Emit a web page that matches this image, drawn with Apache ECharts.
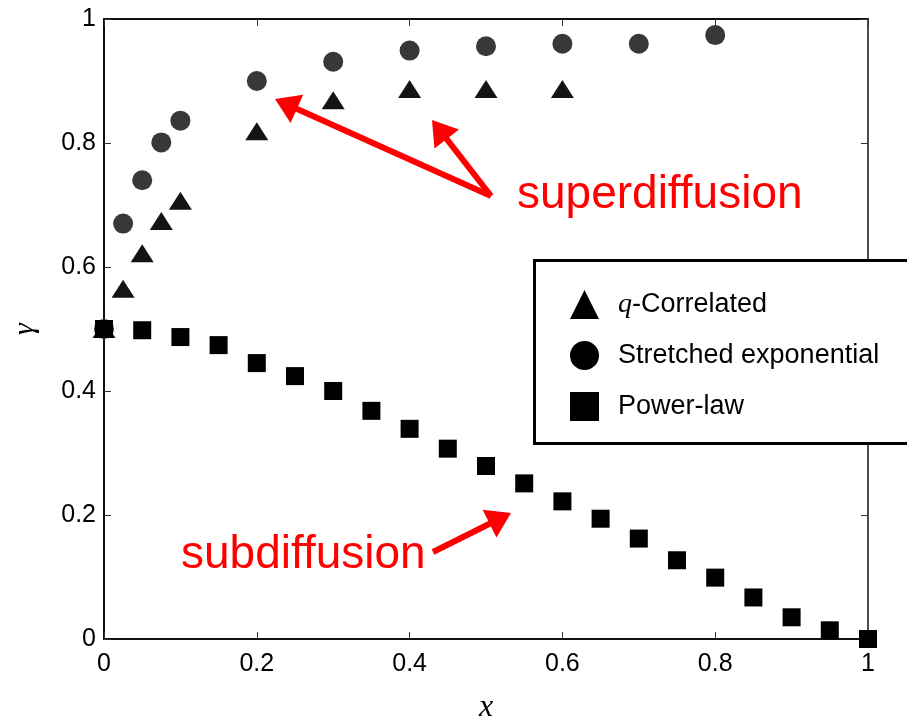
<!DOCTYPE html>
<html>
<head>
<meta charset="utf-8">
<script src="https://cdn.jsdelivr.net/npm/echarts@6/dist/echarts.min.js"></script>
<style>
  html, body { margin: 0; padding: 0; background: #fff; }
  #chart { width: 907px; height: 717px; }
</style>
</head>
<body>
<div id="chart"></div>
<script>
// gamma(x) for the three memory-kernel models
const xCorrelated = [0, 0.025, 0.05, 0.075, 0.1, 0.2, 0.3, 0.4, 0.5, 0.6];
const gammaCorrelated = [0.5, 0.565, 0.622, 0.674, 0.707, 0.819, 0.869, 0.887, 0.887, 0.887];

const xStretched = [0, 0.025, 0.05, 0.075, 0.1, 0.2, 0.3, 0.4, 0.5, 0.6, 0.7, 0.8];
const gammaStretched = [0.5, 0.67, 0.74, 0.801, 0.836, 0.9, 0.931, 0.949, 0.956, 0.96, 0.96, 0.974];

const xPower = [0, 0.05, 0.1, 0.15, 0.2, 0.25, 0.3, 0.35, 0.4, 0.45, 0.5,
                0.55, 0.6, 0.65, 0.7, 0.75, 0.8, 0.85, 0.9, 0.95, 1];
const gammaPower = [0.5, 0.498, 0.487, 0.474, 0.445, 0.424, 0.4, 0.368, 0.339, 0.307, 0.279,
                    0.251, 0.222, 0.194, 0.162, 0.127, 0.099, 0.067, 0.035, 0.014, 0];

const seriesNames = ['q-Correlated', 'Stretched exponential', 'Power-law'];
const axisTicks = [0, 0.2, 0.4, 0.6, 0.8, 1];

const SANS = "'Liberation Sans', Arial, Helvetica, sans-serif";
const SERIF = "'Liberation Serif', 'Times New Roman', serif";
const RED = '#ff0000';

const zip = (xs, ys) => xs.map((x, i) => [x, ys[i]]);

const tickMin = axisTicks[0];
const tickMax = axisTicks[axisTicks.length - 1];
const tickStep = axisTicks[1] - axisTicks[0];

function valueAxis(position, showLabels, extra) {
  return Object.assign({
    type: 'value',
    position: position,
    min: tickMin,
    max: tickMax,
    interval: tickStep,
    splitLine: { show: false },
    axisLine: { show: true, onZero: false, lineStyle: { color: '#111', width: 2 } },
    axisTick: { show: true, inside: true, length: 7, lineStyle: { color: '#333', width: 1 } },
    axisLabel: {
      show: showLabels,
      fontFamily: SANS,
      fontSize: 25,
      color: '#000',
      margin: 8
    }
  }, extra || {});
}

// red annotation arrow from tail (x1,y1) to tip (x2,y2)
function arrow(x1, y1, x2, y2) {
  const dx = x2 - x1, dy = y2 - y1;
  const len = Math.hypot(dx, dy);
  const ux = dx / len, uy = dy / len;
  const headLen = 24, halfW = 15.5;
  const bx = x2 - ux * headLen, by = y2 - uy * headLen;
  return [
    {
      type: 'line', z: 20,
      shape: { x1: x1, y1: y1, x2: bx + ux * 4, y2: by + uy * 4 },
      style: { stroke: RED, lineWidth: 6 }
    },
    {
      type: 'polygon', z: 20,
      shape: { points: [[x2, y2], [bx - uy * halfW, by + ux * halfW], [bx + uy * halfW, by - ux * halfW]] },
      style: { fill: RED }
    }
  ];
}

const chart = echarts.init(document.getElementById('chart'), null, { renderer: 'canvas' });

const option = {
  backgroundColor: '#fff',
  animation: false,
  grid: {
    left: 104, right: 39, top: 19, bottom: 78,
    show: false,
    containLabel: false,
    outerBoundsMode: 'none'
  },
  xAxis: [
    valueAxis('bottom', true, {
      name: 'x',
      nameLocation: 'middle',
      nameGap: 53,
      nameTextStyle: { fontFamily: SERIF, fontStyle: 'italic', fontSize: 32, color: '#000' },
      axisLabel: { show: true, fontFamily: SANS, fontSize: 25, color: '#000', margin: 13 }
    }),
    valueAxis('top', false)
  ],
  yAxis: [
    valueAxis('left', true, {
      name: 'γ',
      nameLocation: 'middle',
      nameGap: 64,
      nameTextStyle: { fontFamily: SERIF, fontStyle: 'italic', fontSize: 30, color: '#000' }
    }),
    valueAxis('right', false, { axisLine: { show: true, onZero: false, lineStyle: { color: '#111', width: 1.5 } } })
  ],
  legend: {
    orient: 'vertical',
    left: 570,
    top: 290,
    padding: 0,
    itemWidth: 29,
    itemHeight: 29,
    itemGap: 22,
    selectedMode: false,
    z: 30,
    data: seriesNames.map(n => ({ name: n, itemStyle: { color: '#000', borderWidth: 0 } })),
    formatter: function (name) {
      if (name === 'q-Correlated') return '{g| }{q|q}-Correlated';
      return '{g| }' + name;
    },
    textStyle: {
      fontFamily: SANS,
      fontSize: 27,
      color: '#000',
      rich: {
        g: { width: 14, fontSize: 27 },
        q: { fontFamily: SERIF, fontStyle: 'italic', fontSize: 28, color: '#000' }
      }
    }
  },
  series: [
    {
      name: seriesNames[0],
      type: 'scatter',
      clip: false,
      symbol: 'triangle',
      symbolSize: [23, 18],
      itemStyle: { color: '#141414', opacity: 1 },
      data: zip(xCorrelated, gammaCorrelated),
      z: 3
    },
    {
      name: seriesNames[1],
      type: 'scatter',
      clip: false,
      symbol: 'circle',
      symbolSize: 20,
      itemStyle: { color: '#383838', opacity: 1 },
      data: zip(xStretched, gammaStretched),
      z: 3
    },
    {
      name: seriesNames[2],
      type: 'scatter',
      clip: false,
      symbol: 'rect',
      symbolSize: 18,
      itemStyle: { color: '#000', opacity: 1 },
      data: zip(xPower, gammaPower),
      z: 4
    }
  ],
  graphic: [
    {
      type: 'rect', z: 25,
      shape: { x: 534.5, y: 260.5, width: 420, height: 183 },
      style: { fill: '#fff', stroke: '#000', lineWidth: 3 }
    },
    {
      type: 'text', z: 20, x: 517, y: 195,
      style: { text: 'superdiffusion', fontFamily: SANS, fontSize: 46, fill: RED, verticalAlign: 'middle' }
    },
    {
      type: 'text', z: 20, x: 181, y: 555,
      style: { text: 'subdiffusion', fontFamily: SANS, fontSize: 46, fill: RED, verticalAlign: 'middle' }
    }
  ].concat(
    arrow(491, 196, 275, 99),
    arrow(491, 196, 432, 120),
    arrow(433, 552, 511, 513)
  )
};

chart.setOption(option);
</script>
</body>
</html>
